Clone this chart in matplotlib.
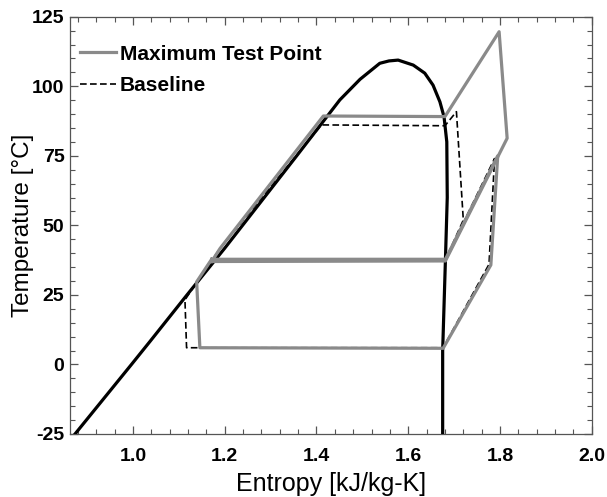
import matplotlib
matplotlib.use('Agg')
import matplotlib.pyplot as plt
from matplotlib.ticker import MultipleLocator

# saturation dome of the working fluid (liquid side up, vapour side down)
dome_s = [0.874, 0.997, 1.037, 1.118, 1.200, 1.248, 1.357, 1.451, 1.495, 1.538,
          1.558, 1.578, 1.611, 1.636, 1.654, 1.669, 1.678, 1.684, 1.685, 1.681,
          1.675, 1.675]
dome_T = [-25, 0, 8.2, 25, 41.75, 51.9, 75, 95.1, 102.5, 108.25,
          109.1, 109.4, 107.6, 104.7, 100.4, 94.4, 89, 80, 60, 37.5,
          5, -25]

# maximum test point, high stage and low stage
max_high_s = [1.1716, 1.681, 1.8155, 1.798, 1.680, 1.415, 1.19, 1.1716]
max_high_T = [37.0, 37.2, 81.3, 119.6, 89.1, 89.3, 41.7, 37.0]
max_low_s = [1.1716, 1.139, 1.146, 1.676, 1.780, 1.795, 1.681, 1.1716]
max_low_T = [37.8, 29.7, 6.0, 5.8, 35.75, 75.0, 37.8, 37.8]

# baseline, high stage and low stage
base_high_s = [1.1716, 1.681, 1.72, 1.705, 1.680, 1.411, 1.19, 1.1716]
base_high_T = [37.3, 37.6, 51.9, 90.85, 85.8, 86.1, 41.7, 37.3]
base_low_s = [1.1716, 1.1135, 1.117, 1.676, 1.776, 1.788, 1.681]
base_low_T = [37.5, 23.2, 6.0, 6.0, 36.0, 74.0, 37.6]

gray = '#8a8a8a'
plt.rcParams['font.family'] = ['Liberation Sans', 'DejaVu Sans']
plt.rcParams['axes.unicode_minus'] = False

fig = plt.figure(figsize=(6.07, 4.97), dpi=100)
ax = fig.add_axes([0.1153, 0.1268, 0.8597, 0.8396])

ax.plot(base_high_s, base_high_T, color='black', lw=1.2, dashes=(4, 2), zorder=2)
ax.plot(base_low_s, base_low_T, color='black', lw=1.2, dashes=(4, 2), zorder=2)
ax.plot(dome_s, dome_T, color='black', lw=2.3, zorder=3)
ax.plot(max_high_s, max_high_T, color=gray, lw=2.3, zorder=4)
ax.plot(max_low_s, max_low_T, color=gray, lw=2.3, zorder=4)

# legend handles
ax.plot([], [], color=gray, lw=2.3, label='Maximum Test Point')
ax.plot([], [], color='black', lw=1.2, dashes=(4, 2), label='Baseline')
ax.legend(loc='upper left', bbox_to_anchor=(-0.008, 0.968), frameon=False,
          prop={'weight': 'bold', 'size': 15}, handlelength=1.7,
          handletextpad=0.2, labelspacing=0.6, borderaxespad=0.3)

ax.set_xlim(0.863, 2.0)
ax.set_ylim(-25, 125)
ax.xaxis.set_major_locator(MultipleLocator(0.2))
ax.xaxis.set_minor_locator(MultipleLocator(0.04))
ax.yaxis.set_major_locator(MultipleLocator(25))
ax.yaxis.set_minor_locator(MultipleLocator(5))
ax.set_xticks([1.0, 1.2, 1.4, 1.6, 1.8, 2.0])
ax.set_xticklabels(['1.0', '1.2', '1.4', '1.6', '1.8', '2.0'])
ax.set_yticks([-25, 0, 25, 50, 75, 100, 125])

ax.tick_params(which='both', direction='in', top=True, right=True, color='#555555')
ax.tick_params(which='major', length=6, width=0.9)
ax.tick_params(which='minor', length=3.5, width=0.8)
ax.tick_params(axis='x', pad=10, labelsize=14)
ax.tick_params(axis='y', pad=4, labelsize=14)
for lab in ax.get_xticklabels() + ax.get_yticklabels():
    lab.set_fontweight('bold')
for sp in ax.spines.values():
    sp.set_color('#555555')
    sp.set_linewidth(0.9)

ax.set_xlabel('Entropy [kJ/kg-K]', fontsize=18)
ax.set_ylabel('Temperature [°C]', fontsize=17.5)
ax.xaxis.set_label_coords(0.5, -0.09)
ax.yaxis.set_label_coords(-0.069, 0.5)

fig.savefig('out.png', dpi=100)
